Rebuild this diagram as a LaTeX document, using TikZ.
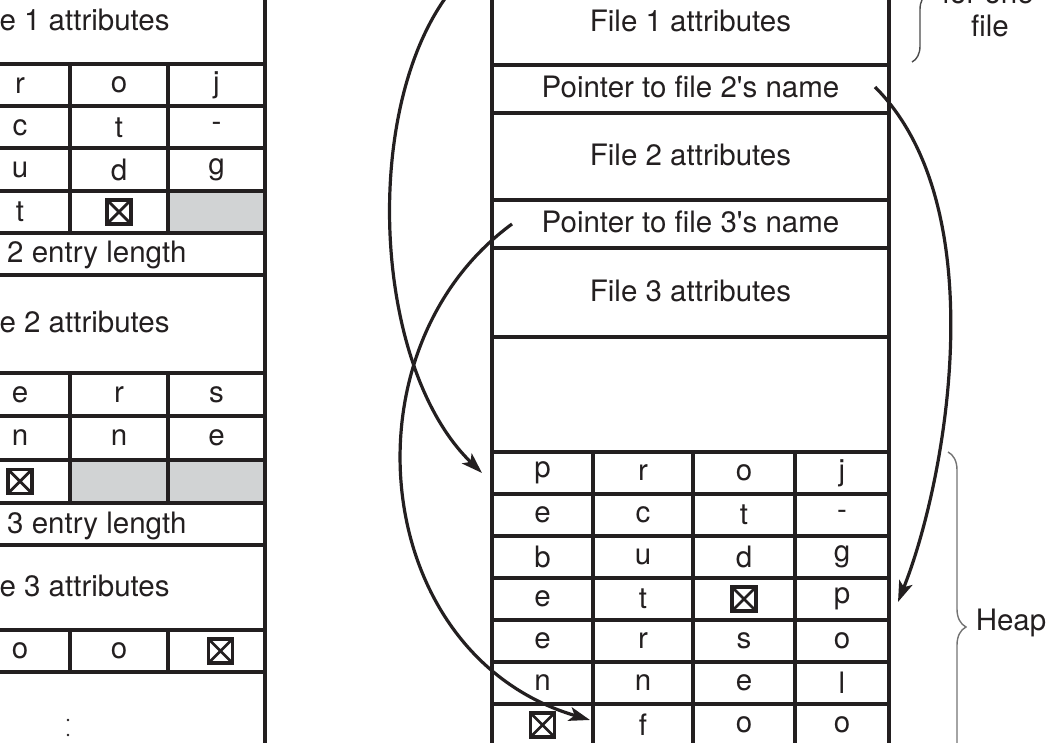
\documentclass[tikz,border=0pt]{standalone}
\usepackage{fontspec}
\setmainfont{TeX Gyre Heros}
\usetikzlibrary{arrows.meta,decorations.pathreplacing}
\definecolor{ink}{RGB}{35,31,32}
\definecolor{cellgray}{RGB}{209,211,212}
\begin{document}
\begin{tikzpicture}[x=1pt,y=-1pt,
  every node/.style={font=\fontsize{29.5}{33}\selectfont, text=ink, inner sep=0pt, outer sep=0pt},
  box/.style={draw=ink, line width=4pt, anchor=north west},
  rowtext/.style={box, text height=21pt, text depth=3pt},
  grayfill/.style={fill=cellgray, anchor=north west},
  nullbox/.style={draw=ink, line width=3.6pt, minimum size=24pt,
    path picture={\draw[ink, line width=2.8pt]
      (path picture bounding box.south west) -- (path picture bounding box.north east)
      (path picture bounding box.north west) -- (path picture bounding box.south east);}},
  arrowline/.style={draw=ink, line width=3.2pt, -{Stealth[length=21pt,width=14pt,inset=5pt]}},
  bracestyle/.style={draw=black!55, line width=1.4pt, decorate, decoration={brace, amplitude=#1}}
]
\useasboundingbox (0,0) rectangle (1047,743);
\begin{scope}
\clip (0,0) rectangle (1047,743);

% ---------------- left table ----------------
\node[grayfill, minimum width=97pt, minimum height=42.25pt] (g1) at (168,190.75) {};
\node[grayfill, minimum width=98pt, minimum height=43.33pt] (g2) at (70,459.67) {};
\node[grayfill, minimum width=97pt, minimum height=43.33pt] (g3) at (168,459.67) {};

\node[rowtext, minimum width=392pt, minimum height=84pt] (l1att) at (-127,-20) {File 1 attributes};
\foreach \pa/\pb/\pc/\pd [count=\i from 0] in {p/r/o/j, e/c/t/-, b/u/d/g, e/t/{}/{}}{
  \pgfmathsetmacro\yy{64+42.25*\i}
  \node[box, minimum width=97pt, minimum height=42.25pt] (la\i) at (-127,\yy) {\pa};
  \node[box, minimum width=100pt, minimum height=42.25pt] (lb\i) at (-30,\yy) {\pb};
  \node[box, minimum width=98pt, minimum height=42.25pt] (lc\i) at (70,\yy) {\pc};
  \node[box, minimum width=97pt, minimum height=42.25pt] (ld\i) at (168,\yy) {\pd};
}
\node[rowtext, minimum width=392pt, minimum height=42pt] (l2len) at (-127,233) {File 2 entry length};
\node[rowtext, minimum width=392pt, minimum height=98pt] (l2att) at (-127,275) {File 2 attributes};
\foreach \pa/\pb/\pc/\pd [count=\i from 0] in {p/e/r/s, o/n/n/e, l/{}/{}/{}}{
  \pgfmathsetmacro\yy{373+43.33*\i}
  \node[box, minimum width=97pt, minimum height=43.33pt] (ma\i) at (-127,\yy) {\pa};
  \node[box, minimum width=100pt, minimum height=43.33pt] (mb\i) at (-30,\yy) {\pb};
  \node[box, minimum width=98pt, minimum height=43.33pt] (mc\i) at (70,\yy) {\pc};
  \node[box, minimum width=97pt, minimum height=43.33pt] (md\i) at (168,\yy) {\pd};
}
\node[rowtext, minimum width=392pt, minimum height=42pt] (l3len) at (-127,503) {File 3 entry length};
\node[rowtext, minimum width=392pt, minimum height=85pt] (l3att) at (-127,545) {File 3 attributes};
\node[box, minimum width=97pt, minimum height=42pt] (na0) at (-127,630) {f};
\node[box, minimum width=100pt, minimum height=42pt] (nb0) at (-30,630) {o};
\node[box, minimum width=98pt, minimum height=42pt] (nc0) at (70,630) {o};
\node[box, minimum width=97pt, minimum height=42pt] (nd0) at (168,630) {};
\node[box, minimum width=392pt, minimum height=100pt] (lrest) at (-127,672) {};
\fill[ink] (68,720) circle (1.4pt) (68,735) circle (1.4pt);

\node[nullbox] (lx1) at (lc3) {};
\node[nullbox] (lx2) at (mb2) {};
\node[nullbox] (lx3) at ([xshift=4pt]nd0.center) {};

% ---------------- right table ----------------
\node[rowtext, minimum width=397pt, minimum height=85pt] (r1) at (492,-20) {File 1 attributes};
\node[rowtext, minimum width=397pt, minimum height=48pt] (r2) at (492,65) {Pointer to file 2\textquotesingle s name};
\node[rowtext, minimum width=397pt, minimum height=87pt] (r3) at (492,113) {File 2 attributes};
\node[rowtext, minimum width=397pt, minimum height=48pt] (r4) at (492,200) {Pointer to file 3\textquotesingle s name};
\node[rowtext, minimum width=397pt, minimum height=89pt] (r5) at (492,248) {File 3 attributes};
\node[box, minimum width=397pt, minimum height=115pt] (r6) at (492,337) {};
\foreach \pa/\pb/\pc/\pd [count=\i from 0] in {p/r/o/j, e/c/t/-, b/u/d/g, e/t/{}/p, e/r/s/o, n/n/e/l, {}/f/o/o}{
  \pgfmathsetmacro\yy{452+42*\i}
  \node[box, minimum width=101pt, minimum height=42pt] (ha\i) at (492,\yy) {\pa};
  \node[box, minimum width=100pt, minimum height=42pt] (hb\i) at (593,\yy) {\pb};
  \node[box, minimum width=102pt, minimum height=42pt] (hc\i) at (693,\yy) {\pc};
  \node[box, minimum width=94pt, minimum height=42pt] (hd\i) at (795,\yy) {\pd};
}
\node[nullbox] (hx1) at (hc3) {};
\node[nullbox] (hx2) at (ha6) {};

% ---------------- braces and labels ----------------
\coordinate (tb1) at (912,-75);
\coordinate (tb2) at (912,62);
\draw[bracestyle=16pt, draw=black!70] (tb1) -- (tb2);
\node[anchor=base] (lab1) at (988,4) {for one};
\node[anchor=base] (lab2) at (990,37) {file};

\coordinate (hb1) at (948,452);
\coordinate (hb2) at (948,802);
\draw[bracestyle=18pt] (hb1) -- (hb2);
\node[anchor=base] (heap) at (1011,630) {Heap};

% ---------------- arrows ----------------
\coordinate (a1s) at (470,-30);
\coordinate (a1e) at ([xshift=-10pt]ha0.west);
\draw[arrowline] (a1s) .. controls (360,70) and (365,360) .. (a1e);

\coordinate (a2s) at ([xshift=-14pt,yshift=2pt]r2.east);
\coordinate (a2e) at ([xshift=9pt,yshift=-3pt]hd3.east);
\draw[arrowline] (a2s) .. controls (996,208) and (946,482) .. (a2e);

\coordinate (a3s) at ([xshift=20pt]r4.west);
\coordinate (a3e) at ([xshift=-3pt,yshift=5pt]hb6.west);
\draw[arrowline] (a3s) .. controls (340,350) and (370,655) .. (a3e);
\end{scope}
\end{tikzpicture}
\end{document}
